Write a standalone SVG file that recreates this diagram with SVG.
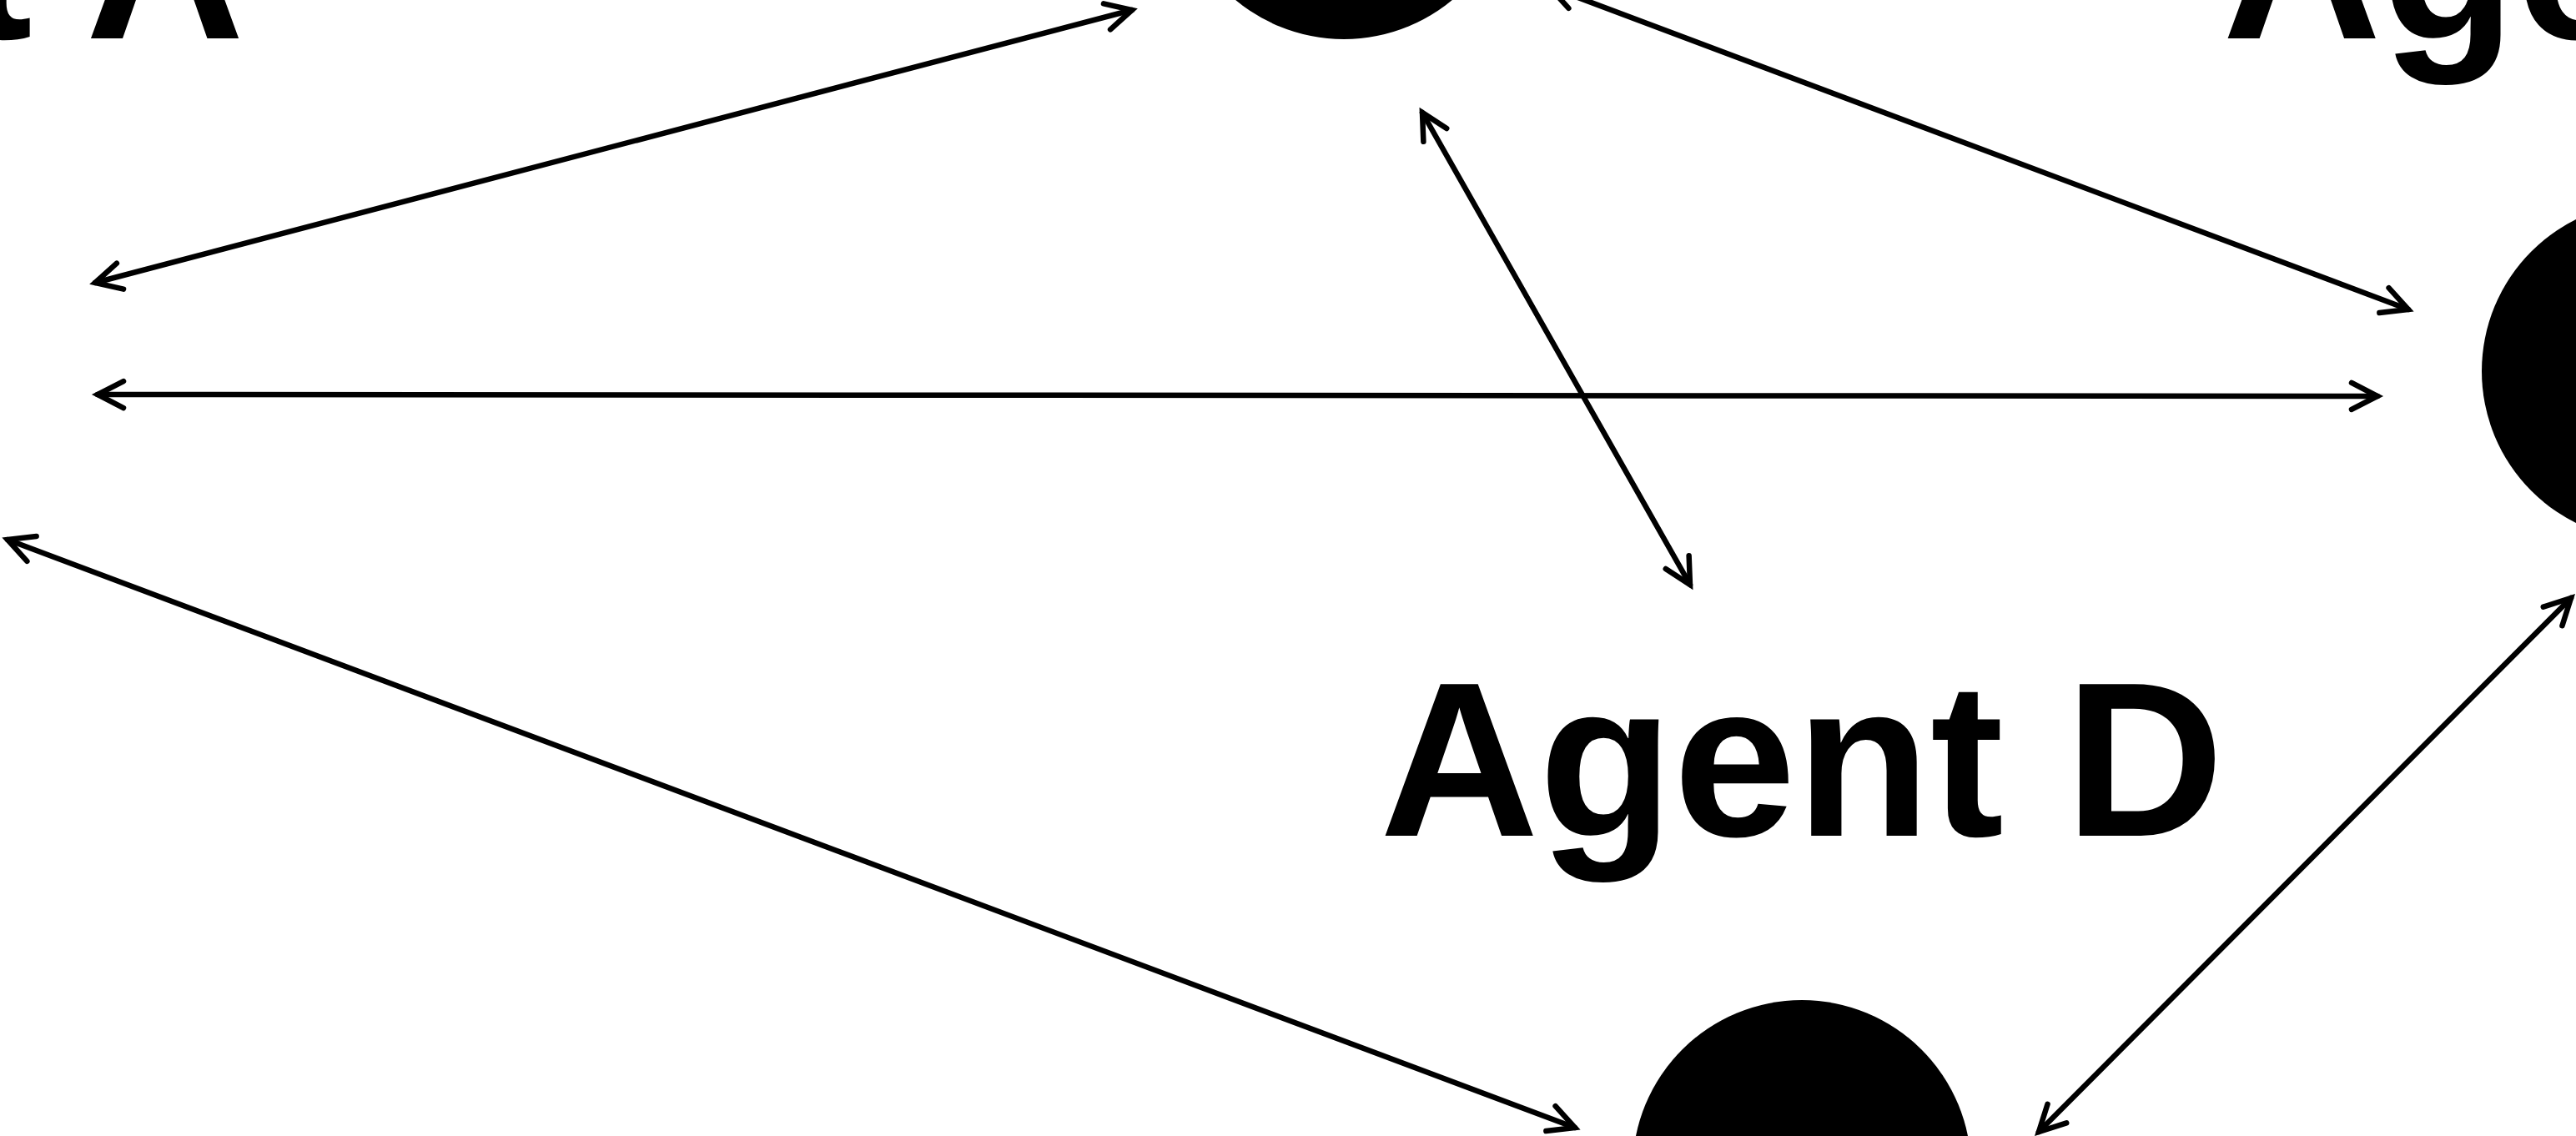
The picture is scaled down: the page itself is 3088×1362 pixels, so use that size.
<svg xmlns="http://www.w3.org/2000/svg" width="3088" height="1362" viewBox="0 0 3088 1362">
  <style>
    .node { fill: #000000; }
    .label { font-family: "Liberation Sans", Arial, sans-serif; font-weight: bold; font-size: 264px; fill: #000000; text-anchor: middle; }
    .edge { stroke: #000000; stroke-width: 6.5; fill: none; stroke-linecap: round; marker-start: url(#arrow); marker-end: url(#arrow); }
  </style>
  <defs>
    <marker id="arrow" markerUnits="userSpaceOnUse" viewBox="-40 -25 50 50" refX="0" refY="0" markerWidth="50" markerHeight="50" orient="auto-start-reverse" overflow="visible">
      <path d="M -31,-16 L 0,0 L -31,16" fill="none" stroke="#000000" stroke-width="6.5" stroke-linecap="round" stroke-linejoin="miter"/>
    </marker>
  </defs>
  <rect x="0" y="0" width="3088" height="1362" fill="#ffffff"/>

  <g id="node-agent-a">
    <circle class="node" cx="-218" cy="446" r="203"/>
    <text class="label" x="-208" y="46">Agent A</text>
  </g>
  <g id="node-agent-b">
    <circle class="node" cx="1611" cy="-156" r="203"/>
  </g>
  <g id="node-agent-c">
    <circle class="node" cx="3178" cy="445" r="203"/>
    <text class="label" x="3170" y="46">Agent C</text>
  </g>
  <g id="node-agent-d">
    <circle class="node" cx="2160" cy="1402" r="203"/>
    <text class="label" x="2160" y="1002">Agent D</text>
  </g>

  <g id="connectors">
    <line class="edge" x1="114" y1="339" x2="1357" y2="12"/>
    <line class="edge" x1="1857" y1="-16" x2="2887" y2="371"/>
    <line class="edge" x1="117" y1="473" x2="2850" y2="475"/>
    <line class="edge" x1="1705" y1="135" x2="2026" y2="701"/>
    <line class="edge" x1="9" y1="647" x2="1888" y2="1352"/>
    <line class="edge" x1="3082" y1="717" x2="2444" y2="1357"/>
  </g>
</svg>
